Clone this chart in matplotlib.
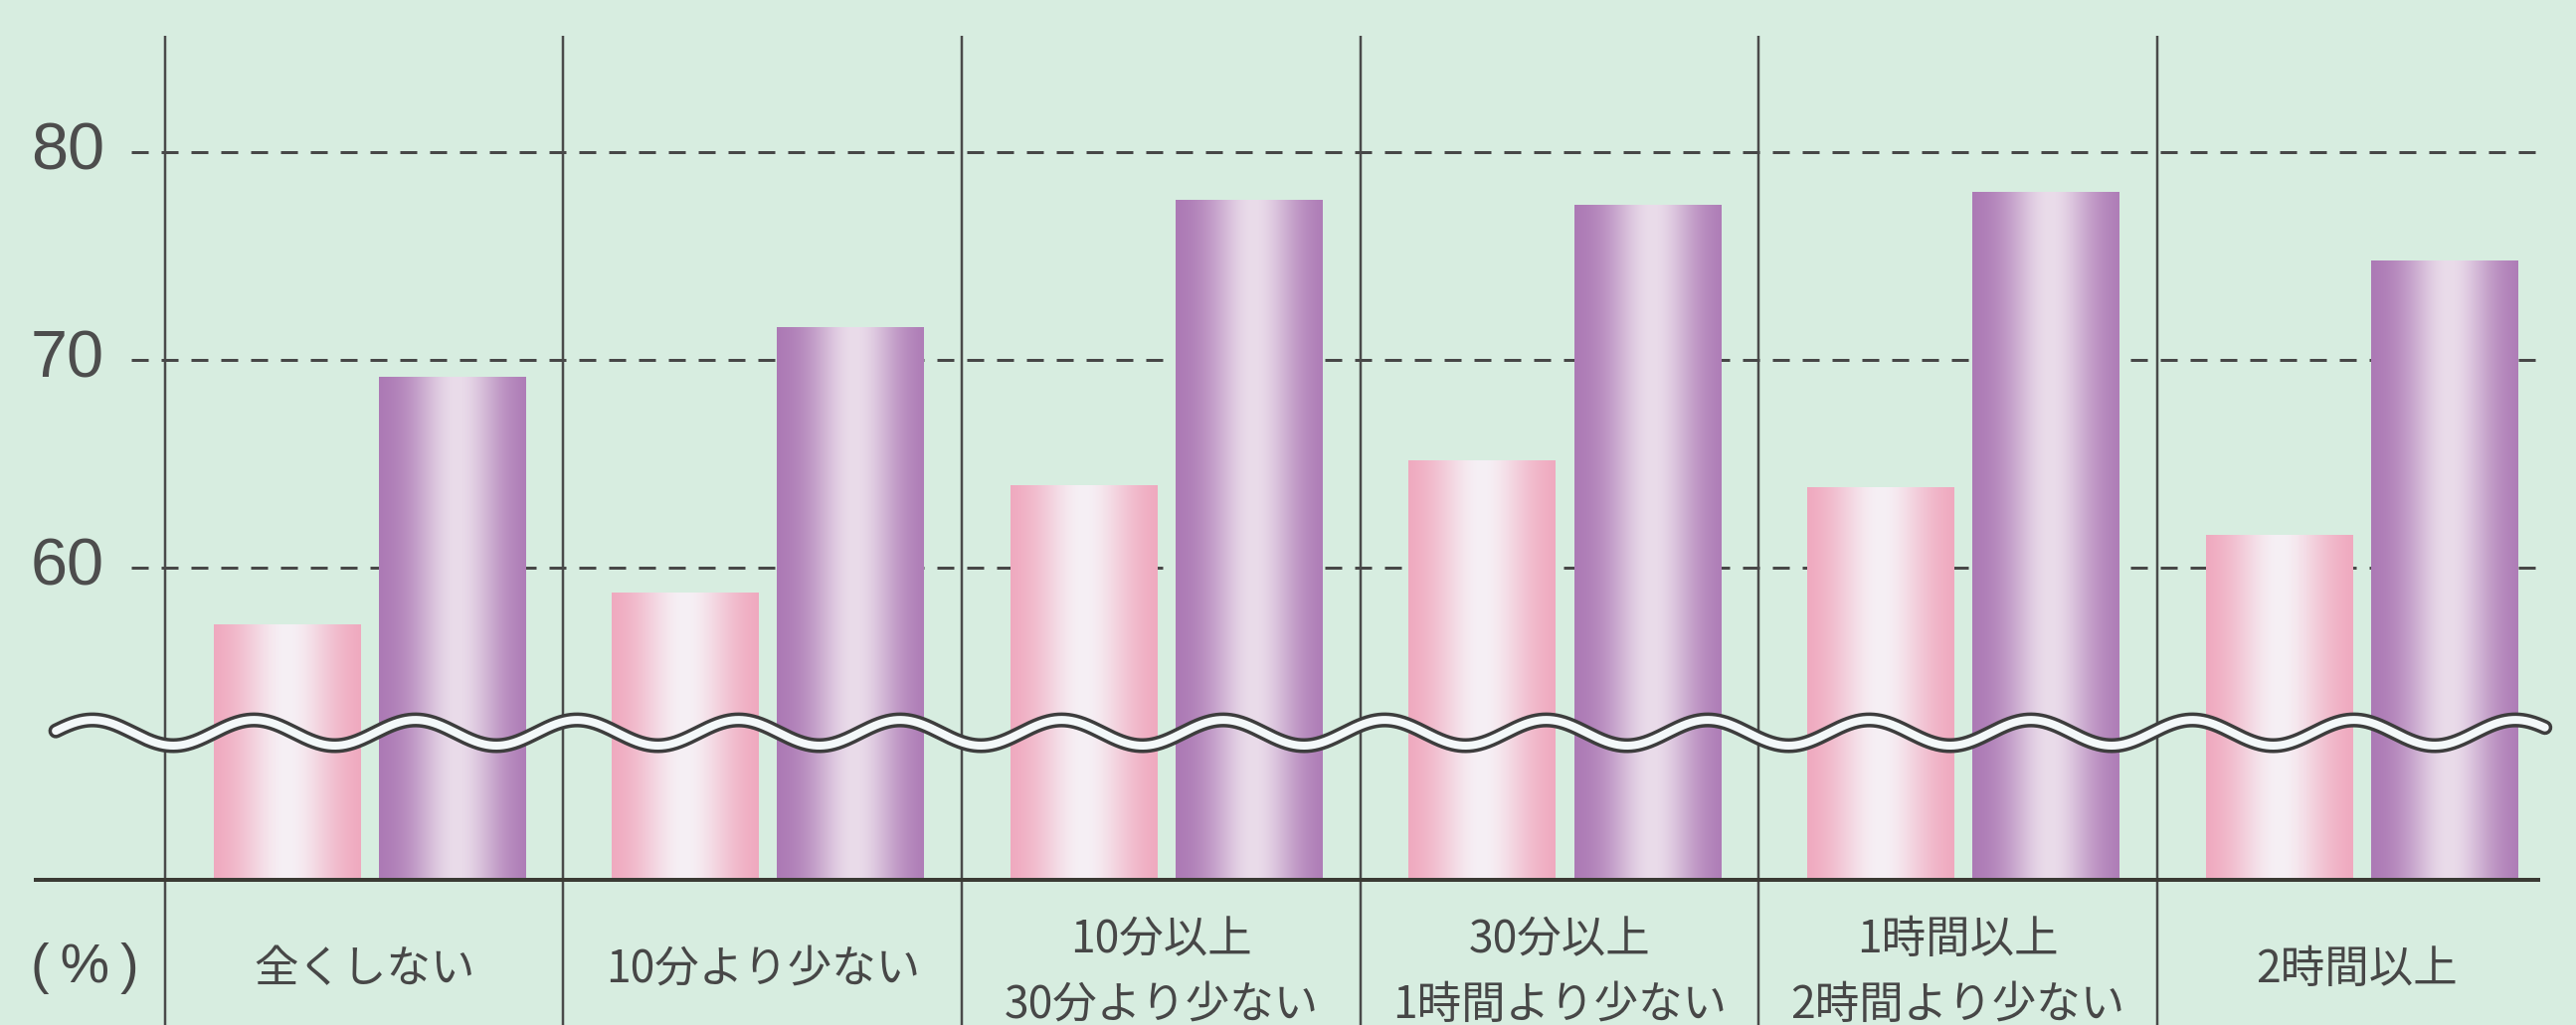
import numpy as np
import matplotlib
matplotlib.use("Agg")
import matplotlib.pyplot as plt
from matplotlib.colors import to_rgb

# ---------------- data ----------------
categories = ["全くしない", "10分より少ない", "10分以上\n30分より少ない",
              "30分以上\n1時間より少ない", "1時間以上\n2時間より少ない", "2時間以上"]
series_pink = [57.3, 58.8, 64.0, 65.2, 63.9, 61.6]
series_purple = [69.2, 71.6, 77.7, 77.5, 78.1, 74.8]
y_ticks = [60, 70, 80]
unit_label = "(\u2009%\u2009)"

# ---------------- style ----------------
plt.rcParams['font.family'] = ['Noto Sans CJK JP', 'DejaVu Sans']
plt.rcParams['lines.scale_dashes'] = False
BG = "#d7ede0"
INK = "#474747"
BASE = 45.0  # baseline value (axis is broken below 60)
PX = 72 / 100.0  # points per pixel at dpi 100

fig = plt.figure(figsize=(25.9, 10.31), dpi=100)
fig.patch.set_facecolor(BG)
ax = fig.add_axes([0, 0, 1, 1])
ax.set_facecolor(BG)
ax.axis('off')
XL = (-0.914, 5.551)
YL = (37.99, 87.34)

x = np.arange(len(categories))
BW = 0.367
OFF_P, OFF_V = -0.195, 0.22


def gradient(edge, center, peak, width=0.26, n=256):
    t = np.linspace(0, 1, n)
    f = np.exp(-((t - peak) / width) ** 2)
    e = np.array(to_rgb(edge))
    c = np.array(to_rgb(center))
    rgb = e[None, :] * (1 - f[:, None]) + c[None, :] * f[:, None]
    return rgb[None, :, :]


grad_pink = gradient("#efa3ba", "#f6f0f5", 0.5, 0.32)
grad_purple = gradient("#aa76b3", "#eadcea", 0.53, 0.29)

# gridlines (behind bars)
ax.hlines(y_ticks, -0.585, 5.48, colors=INK, linewidth=3 * PX,
          linestyles=[(0, (17 * PX, 13 * PX))], zorder=1)

bars_p = ax.bar(x + OFF_P, np.array(series_pink) - BASE, bottom=BASE, width=BW,
                color='none', edgecolor='none', zorder=2)
bars_v = ax.bar(x + OFF_V, np.array(series_purple) - BASE, bottom=BASE, width=BW,
                color='none', edgecolor='none', zorder=2)
for bars, grad in ((bars_p, grad_pink), (bars_v, grad_purple)):
    for p in bars:
        x0, y0 = p.get_x(), p.get_y()
        im = ax.imshow(grad, extent=[x0, x0 + p.get_width(), y0, y0 + p.get_height()],
                       aspect='auto', interpolation='bicubic', zorder=2)
        im.set_clip_path(p)

# group separators
ax.vlines(x - 0.5, YL[0], 85.6, colors="#4a4a4a", linewidth=2.5 * PX, zorder=3)

# wave break symbol
xs = np.linspace(-0.774, 5.473, 3000)
ys = 52.06 + 0.62 * np.cos(2 * np.pi * (xs + 0.682) / 0.4054)
ax.plot(xs, ys, color="#3d3d3d", linewidth=15 * PX, solid_capstyle='round', zorder=4)
ax.plot(xs, ys, color="#f3f8f9", linewidth=8 * PX, solid_capstyle='round', zorder=5)

# baseline
ax.hlines(BASE, -0.83, 5.46, colors="#3a3a34", linewidth=4 * PX, zorder=6)

# y tick labels
for v in y_ticks:
    ax.text(-0.652, v, str(v), ha='right', va='center', fontsize=48,
            family=['Liberation Sans', 'DejaVu Sans'], color="#4d4d4d")

# category labels
for i, lab in enumerate(categories):
    lines = lab.split("\n")
    if len(lines) == 1:
        ax.text(i, 40.67, lines[0], ha='center', va='center', fontsize=32, color=INK)
    else:
        ax.text(i, 42.1, lines[0], ha='center', va='center', fontsize=32, color=INK)
        ax.text(i, 38.95, lines[1], ha='center', va='center', fontsize=32, color=INK)

ax.text(-0.70, 40.7, unit_label, ha='center', va='center', fontsize=40,
        family=['Liberation Sans', 'DejaVu Sans'], color=INK)

ax.set_xlim(*XL)
ax.set_ylim(*YL)
fig.savefig("out.png", dpi=100, facecolor=BG)
